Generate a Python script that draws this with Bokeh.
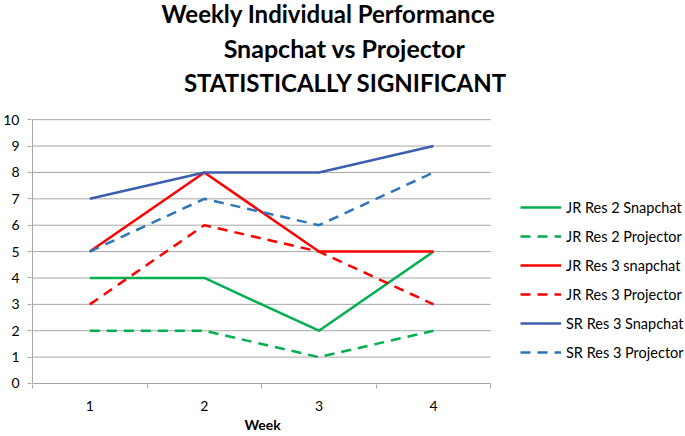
from bokeh.plotting import figure
from bokeh.models import Legend, LegendItem, FixedTicker, Range1d, Title, Label
from bokeh.embed import file_html
from bokeh.resources import INLINE

weeks = [1, 2, 3, 4]
week_labels = {1: "1", 2: "2", 3: "3", 4: "4"}
jr2_snap = [4, 4, 2, 5]
jr2_proj = [2, 2, 1, 2]
jr3_snap = [5, 8, 5, 5]
jr3_proj = [3, 6, 5, 3]
sr3_snap = [7, 8, 8, 9]
sr3_proj = [5, 7, 6, 8]
series_names = ["JR Res 2 Snapchat", "JR Res 2 Projector", "JR Res 3 snapchat",
                "JR Res 3 Projector", "SR Res 3 Snapchat", "SR Res 3 Projector"]
title_lines = ["Weekly Individual Performance", "Snapchat vs Projector", "STATISTICALLY SIGNIFICANT"]
y_ticks = list(range(0, 11))
x_label = "Week"

FONT = "Lato"
GRID = "#a6a6a6"

# layout (pixels)
W, H = 685, 436
AX_LEFT, AX_RIGHT = 31, 490      # pixel span of week 0.5 .. 4.5
AX_TOP, AX_BOTTOM = 119, 382.4   # pixel of y=10 and y=0
FRAME_BOTTOM = 383.4
X0, X1 = 0.5, 4.5
pxx = (AX_RIGHT - AX_LEFT) / (X1 - X0)
pxy = (AX_BOTTOM - AX_TOP) / 10.0

p = figure(width=W, height=H, output_backend="svg", toolbar_location=None,
           x_range=Range1d(X0 - 1 / pxx, X0 + (W - AX_LEFT) / pxx),
           y_range=Range1d(-(FRAME_BOTTOM - AX_BOTTOM) / pxy, AX_BOTTOM / pxy),
           title=None, min_border_left=30, min_border_right=0, min_border_top=0,
           min_border_bottom=52)
p.outline_line_color = None
p.background_fill_color = "white"

# gridlines and value axis line limited to the plot area
p.segment(x0=[X0] * len(y_ticks), x1=[X1] * len(y_ticks), y0=y_ticks, y1=y_ticks,
          line_color=GRID, line_width=1)
p.segment(x0=[X0], x1=[X0], y0=[0], y1=[10], line_color=GRID, line_width=1)

# axes
p.xaxis.ticker = FixedTicker(ticks=weeks, minor_ticks=[0.5, 1.5, 2.5, 3.5, 4.5])
p.xaxis.major_label_overrides = week_labels
p.xaxis.major_tick_out = 0
p.xaxis.major_tick_in = 0
p.xaxis.minor_tick_out = 4
p.xaxis.minor_tick_in = 0
p.xaxis.minor_tick_line_color = GRID
p.xaxis.axis_line_color = None
p.xaxis.major_label_standoff = 12
p.xaxis.major_label_text_font = FONT
p.xaxis.major_label_text_font_size = "14px"
p.xaxis.major_label_text_color = "#000000"

p.yaxis.ticker = FixedTicker(ticks=y_ticks)
p.yaxis.major_tick_out = 4
p.yaxis.major_tick_in = 0
p.yaxis.minor_tick_line_color = None
p.yaxis.major_tick_line_color = GRID
p.yaxis.axis_line_color = None
p.yaxis.major_label_standoff = 8
p.yaxis.major_label_text_font = FONT
p.yaxis.major_label_text_font_size = "14px"
p.yaxis.major_label_text_color = "#000000"

p.xgrid.visible = False
p.ygrid.visible = False

DASH = "10 7"
specs = [
    (jr2_snap, "#00b050", "solid"),
    (jr2_proj, "#00b050", DASH),
    (jr3_snap, "#ff0000", "solid"),
    (jr3_proj, "#ff0000", DASH),
    (sr3_snap, "#3b5fae", "solid"),
    (sr3_proj, "#2e75b6", DASH),
]
items = []
for (vals, color, dash), name in zip(specs, series_names):
    r = p.line(weeks, vals, line_color=color, line_width=2.5, line_dash=dash)
    items.append(LegendItem(label=name, renderers=[r]))

legend = Legend(items=items, location=(489, 22), padding=0, margin=0,
                glyph_width=41, glyph_height=20, label_height=20, spacing=9,
                label_standoff=5, label_text_font=FONT, label_text_font_size="14.5px",
                label_text_color="#000000", border_line_color=None,
                background_fill_alpha=0)
p.add_layout(legend, "center")

# chart title: three centred lines (screen units from the frame's bottom-left)
title_x = [297, 313, 314]
title_base = [12, 47, 81]          # pixels from top
title_sizes = ["24px", "25px", "24px"]
for txt, tx, tb, fs in zip(title_lines, title_x, title_base, title_sizes):
    p.add_layout(Label(x=tx, y=FRAME_BOTTOM - tb, x_units="screen", y_units="screen",
                       text=txt, text_font=FONT, text_font_style="bold", text_font_size=fs,
                       text_align="center", text_baseline="alphabetic", text_color="#000000"))

# category axis title, centred under the week span
p.add_layout(Title(text=x_label, align="left", offset=213, standoff=0,
                   text_font=FONT, text_font_style="bold", text_font_size="14px",
                   text_color="#000000"), "below")

open("out.html", "w").write(file_html(p, INLINE))
